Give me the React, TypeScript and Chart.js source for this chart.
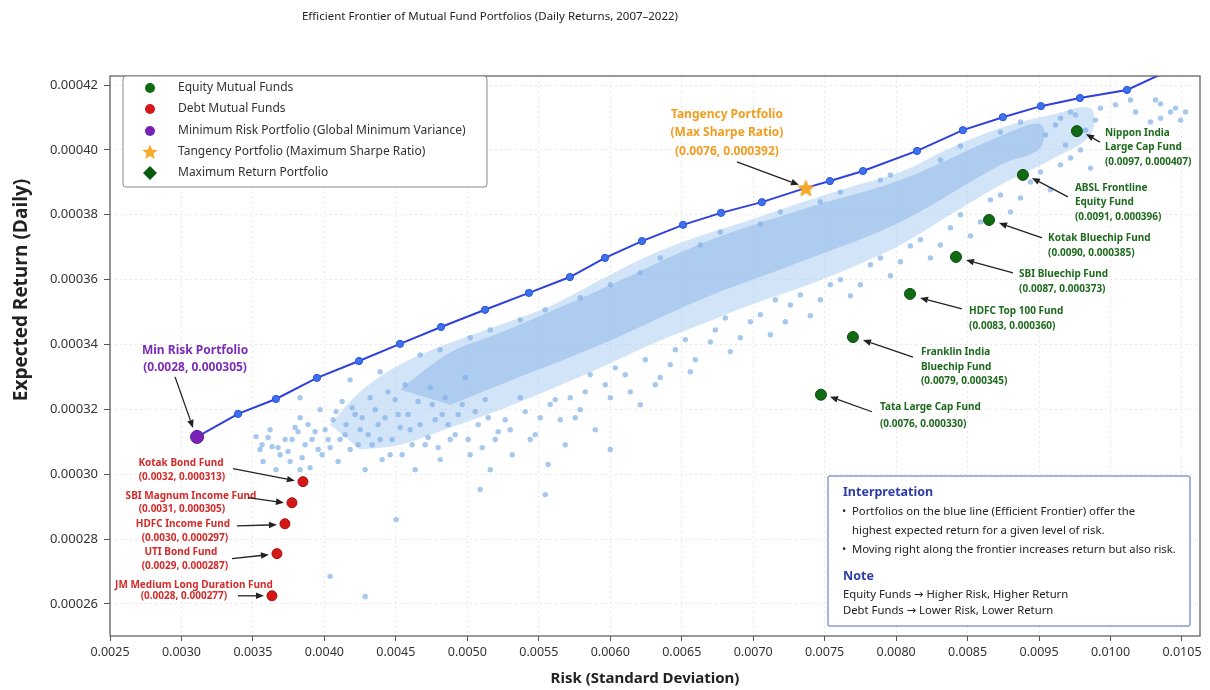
import React, { useEffect, useRef } from 'react';
import { Chart, registerables } from 'chart.js';

Chart.register(...registerables);

// ---------- axis ticks ----------
const X_TICK_VALUES = [0.0025, 0.003, 0.0035, 0.004, 0.0045, 0.005, 0.0055, 0.006, 0.0065, 0.007, 0.0075, 0.008, 0.0085, 0.009, 0.0095, 0.01];
const X_TICK_LABELS = ['0.0025', '0.0030', '0.0035', '0.0040', '0.0045', '0.0050', '0.0055', '0.0060', '0.0065', '0.0070', '0.0075', '0.0080', '0.0085', '0.0095', '0.0100', '0.0105'];
const Y_TICK_VALUES = [0.00026, 0.00028, 0.0003, 0.00032, 0.00034, 0.00036, 0.00038, 0.0004, 0.00042];
const X_MIN = 0.0025;
const X_MAX = 0.010126;
const Y_MIN = 0.0002501;
const Y_MAX = 0.0004228;

// ---------- efficient frontier ----------
const FRONTIER_X = [0.003109, 0.003396, 0.003661, 0.003948, 0.004242, 0.004529, 0.004816, 0.005124, 0.005431, 0.005718, 0.005963, 0.006222, 0.006509, 0.006775, 0.007061, 0.007369, 0.007537, 0.007768, 0.008146, 0.008467, 0.008747, 0.009013, 0.009286, 0.009615, 0.009885];
const FRONTIER_Y = [0.0003115, 0.0003186, 0.0003232, 0.0003297, 0.0003349, 0.0003402, 0.0003454, 0.0003507, 0.0003559, 0.0003608, 0.0003667, 0.0003719, 0.0003769, 0.0003806, 0.0003839, 0.0003883, 0.0003904, 0.0003935, 0.0003997, 0.0004061, 0.0004101, 0.0004135, 0.000416, 0.0004185, 0.000424];

// ---------- funds ----------
const EQUITY_X = [0.009265, 0.008887, 0.00865, 0.008419, 0.008097, 0.007698, 0.007474];
const EQUITY_Y = [0.0004058, 0.0003923, 0.0003784, 0.000367, 0.0003556, 0.0003423, 0.0003245];
const EQUITY_LABELS = [
  ['Nippon India', 'Large Cap Fund', '(0.0097, 0.000407)'],
  ['ABSL Frontline', 'Equity Fund', '(0.0091, 0.000396)'],
  ['Kotak Bluechip Fund', '(0.0090, 0.000385)'],
  ['SBI Bluechip Fund', '(0.0087, 0.000373)'],
  ['HDFC Top 100 Fund', '(0.0083, 0.000360)'],
  ['Franklin India', 'Bluechip Fund', '(0.0079, 0.000345)'],
  ['Tata Large Cap Fund', '(0.0076, 0.000330)'],
];

const DEBT_X = [0.00385, 0.003773, 0.003724, 0.003668, 0.003633];
const DEBT_Y = [0.0002977, 0.0002912, 0.0002847, 0.0002755, 0.0002625];
const DEBT_LABELS = [
  ['Kotak Bond Fund', '(0.0032, 0.000313)'],
  ['SBI Magnum Income Fund', '(0.0031, 0.000305)'],
  ['HDFC Income Fund', '(0.0030, 0.000297)'],
  ['UTI Bond Fund', '(0.0029, 0.000287)'],
  ['JM Medium Long Duration Fund', '(0.0028, 0.000277)'],
];

const MIN_RISK_X = [0.003109];
const MIN_RISK_Y = [0.0003115];
const MIN_RISK_LABEL = ['Min Risk Portfolio', '(0.0028, 0.000305)'];

const TANGENCY_X = [0.007369];
const TANGENCY_Y = [0.0003883];
const TANGENCY_LABEL = ['Tangency Portfolio', '(Max Sharpe Ratio)', '(0.0076, 0.000392)'];

// ---------- simulated portfolios (cloud) ----------
const CLOUD_X = [
  0.003522, 0.00355, 0.003571, 0.00362, 0.003634, 0.003662, 0.00369, 0.003725, 0.00376, 0.003795,
  0.00383, 0.003865, 0.0039, 0.003935, 0.00397, 0.003984, 0.004026, 0.004061, 0.004096, 0.004124,
  0.004145, 0.00418, 0.004215, 0.00425, 0.004285, 0.00432, 0.004334, 0.004376, 0.004404, 0.004446,
  0.004474, 0.004516, 0.004544, 0.004565, 0.0046, 0.004635, 0.004656, 0.004705, 0.00474, 0.004775,
  0.00481, 0.004845, 0.00488, 0.004936, 0.004985, 0.00502, 0.005076, 0.005125, 0.00516, 0.005195,
  0.005265, 0.005314, 0.00537, 0.00544, 0.00551, 0.005566, 0.005615, 0.005685, 0.005755, 0.005825,
  0.005895, 0.006, 0.006105, 0.00621, 0.006315, 0.00642, 0.00656, 0.0067, 0.00684, 0.00698,
  0.00712, 0.00726, 0.0074, 0.00754, 0.00768, 0.00782, 0.00796, 0.0081, 0.00824, 0.00838,
  0.00852, 0.00866, 0.0088, 0.00894, 0.00908, 0.00922, 0.00936, 0.00978,
  0.00992, 0.00404, 0.004285, 0.004502, 0.005545, 0.00383, 0.00509, 0.006, 0.00383, 0.00418,
  0.00467, 0.00502, 0.00537, 0.00579, 0.00621, 0.00663, 0.00705, 0.00747, 0.00789, 0.00831,
  0.00873, 0.00915, 0.00943, 0.00964, 0.00985, 0.009045, 0.009115, 0.009185, 0.009255, 0.009325,
  0.009395, 0.009535, 0.009675, 0.009815, 0.009955, 0.010025,
  0.003564, 0.003606, 0.003676, 0.003746, 0.003774, 0.003816, 0.003844, 0.003886, 0.003914, 0.003956,
  0.004005, 0.00404, 0.004082, 0.00411, 0.004152, 0.004194, 0.004236, 0.004264, 0.004306, 0.004355,
  0.00439, 0.004425, 0.00446, 0.004495, 0.00453, 0.004586, 0.004614, 0.00467, 0.004726, 0.004754,
  0.004796, 0.004824, 0.004866, 0.004915, 0.004964, 0.005006, 0.005055, 0.005104, 0.005146, 0.005216,
  0.0053, 0.005405, 0.005475, 0.00558, 0.00565, 0.00572, 0.00579, 0.00586, 0.005965, 0.006035,
  0.00614, 0.006245, 0.00635, 0.006455, 0.006525, 0.006595, 0.006735, 0.006805, 0.00691, 0.00705,
  0.007155, 0.007225, 0.00733, 0.00747, 0.00761, 0.00775, 0.00789, 0.00803, 0.00817, 0.00831,
  0.00845, 0.00859, 0.00873, 0.00887, 0.00901, 0.00915, 0.00929,
  0.00985, 0.00999, 0.00439, 0.00481, 0.00516, 0.005545, 0.006, 0.00635, 0.00677, 0.00719,
  0.00761, 0.00796, 0.00845, 0.00887, 0.00922,
];
const CLOUD_Y = [
  0.0003116, 0.0003076, 0.0003039, 0.0003137, 0.0003085, 0.0003014, 0.000306, 0.0003107, 0.0003039, 0.0003144,
  0.0003174, 0.0003091, 0.000302, 0.0003131, 0.0003199, 0.000306, 0.0003107, 0.0003168, 0.0003039, 0.0003224,
  0.0003122, 0.0003076, 0.0003184, 0.0003137, 0.0003014, 0.0003236, 0.0003091, 0.0003153, 0.0003045, 0.0003254,
  0.0003107, 0.0003184, 0.000306, 0.0003276, 0.0003137, 0.0003014, 0.0003224, 0.0003091, 0.0003267, 0.0003168,
  0.0003045, 0.0003236, 0.0003107, 0.0003184, 0.0003298, 0.000306, 0.0003153, 0.000323, 0.0003014, 0.0003107,
  0.0003168, 0.000306, 0.0003236, 0.0003107, 0.0003174, 0.000303, 0.000323, 0.0003091, 0.0003174, 0.0003254,
  0.0003137, 0.0003236, 0.0003307, 0.0003214, 0.0003276, 0.0003338, 0.0003316, 0.0003408, 0.0003378, 0.000347,
  0.000343, 0.0003522, 0.0003489, 0.0003584, 0.000355, 0.0003646, 0.0003612, 0.0003704, 0.0003667, 0.000376,
  0.0003735, 0.0003846, 0.0003809, 0.0003901, 0.0003877, 0.0003975, 0.0003944, 0.0004086,
  0.0004117, 0.0002685, 0.0002623, 0.000286, 0.0002937, 0.0003014, 0.0002953, 0.0003076, 0.0003236, 0.0003291,
  0.0003368, 0.0003421, 0.0003476, 0.0003544, 0.0003621, 0.0003707, 0.0003772, 0.000384, 0.0003907, 0.0003969,
  0.0004055, 0.0004098, 0.0004129, 0.0004154, 0.0004142, 0.0004046, 0.0004077, 0.0004015, 0.0004108, 0.0004061,
  0.0004092, 0.0004139, 0.0004117, 0.0004154, 0.0004129, 0.0004117,
  0.0003091, 0.0003113, 0.0003082, 0.000307, 0.0003107, 0.0003131, 0.0003051, 0.0003153, 0.0003107, 0.0003076,
  0.0003137, 0.0003082, 0.0003193, 0.0003107, 0.0003153, 0.0003205, 0.0003091, 0.0003174, 0.0003122, 0.0003199,
  0.0003107, 0.0003174, 0.000306, 0.000323, 0.0003144, 0.0003184, 0.0003091, 0.0003153, 0.0003113, 0.0003215,
  0.0003082, 0.0003184, 0.0003153, 0.0003122, 0.0003215, 0.0003107, 0.0003193, 0.0003082, 0.0003174, 0.0003131,
  0.0003137, 0.0003193, 0.0003122, 0.0003215, 0.0003168, 0.0003236, 0.0003199, 0.0003307, 0.0003276, 0.0003328,
  0.0003254, 0.0003353, 0.0003298, 0.0003384, 0.0003415, 0.0003353, 0.0003445, 0.0003482, 0.0003421, 0.0003492,
  0.0003538, 0.000347, 0.0003553, 0.0003538, 0.00036, 0.0003584, 0.0003667, 0.0003655, 0.0003723, 0.0003707,
  0.00038, 0.0003778, 0.0003861, 0.0003852, 0.0003932, 0.0003954, 0.0004,
  0.0004098, 0.0004092, 0.0003316, 0.0003384, 0.0003445, 0.0003507, 0.0003584, 0.0003667, 0.0003747, 0.0003809,
  0.000387, 0.0003923, 0.0004012, 0.0004086, 0.0004117,
];

// dense core of the cloud (outline, outer and inner)
const CORE_OUTER_X = [0.00404, 0.00425, 0.00453, 0.00488, 0.00523, 0.00558, 0.00593, 0.00628, 0.00663, 0.00698, 0.00733, 0.00768, 0.00803, 0.00838, 0.00873, 0.00908, 0.00936, 0.00936, 0.00908, 0.00873, 0.00838, 0.00803, 0.00768, 0.00733, 0.00698, 0.00663, 0.00628, 0.00593, 0.00558, 0.00523, 0.00488, 0.00453, 0.00425];
const CORE_OUTER_Y = [0.0003153, 0.0003254, 0.0003338, 0.0003405, 0.0003461, 0.0003519, 0.0003599, 0.0003676, 0.0003735, 0.0003784, 0.0003837, 0.0003886, 0.0003932, 0.0004006, 0.0004068, 0.0004108, 0.0004129, 0.0004046, 0.0003969, 0.0003892, 0.00038, 0.0003707, 0.0003636, 0.0003575, 0.0003522, 0.0003461, 0.0003399, 0.0003328, 0.0003261, 0.0003199, 0.0003144, 0.0003091, 0.0003076];
const CORE_INNER_X = [0.00453, 0.00488, 0.00523, 0.00593, 0.00663, 0.00733, 0.00803, 0.00873, 0.00901, 0.00901, 0.00873, 0.00803, 0.00733, 0.00663, 0.00593, 0.00523, 0.00488];
const CORE_INNER_Y = [0.0003261, 0.0003375, 0.0003436, 0.0003569, 0.000371, 0.0003815, 0.0003907, 0.0004043, 0.000408, 0.0004006, 0.0003954, 0.0003778, 0.0003655, 0.0003538, 0.0003399, 0.0003276, 0.0003214];

// ---------- legend & note texts ----------
const LEGEND_LABELS = [
  'Equity Mutual Funds',
  'Debt Mutual Funds',
  'Minimum Risk Portfolio (Global Minimum Variance)',
  'Tangency Portfolio (Maximum Sharpe Ratio)',
  'Maximum Return Portfolio',
];
const TITLE = 'Efficient Frontier of Mutual Fund Portfolios (Daily Returns, 2007\u20132022)';
const X_TITLE = 'Risk (Standard Deviation)';
const Y_TITLE = 'Expected Return (Daily)';
const NOTE_HEAD_1 = 'Interpretation';
const NOTE_BULLETS = [
  ['Portfolios on the blue line (Efficient Frontier) offer the', 'highest expected return for a given level of risk.'],
  ['Moving right along the frontier increases return but also risk.'],
];
const NOTE_HEAD_2 = 'Note';
const NOTE_LINES = ['Equity Funds \u2192 Higher Risk, Higher Return', 'Debt Funds \u2192 Lower Risk, Lower Return'];

// ---------- styling ----------
const FONT = '"Noto Sans", "DejaVu Sans", sans-serif';
const C_EQUITY = '#0f6a12';
const C_DEBT = '#d41818';
const C_MIN = '#7a22b8';
const C_TAN = '#f6ab2a';
const C_MAXRET = '#0b5a12';
const C_FRONT = '#2e40de';

// annotation layout: pixel offsets relative to the marker
type LineOff = [number, number];
type AnnLayout = { lines: LineOff[]; from: LineOff; to: LineOff };
const EQUITY_LAYOUT: AnnLayout[] = [
  { lines: [[28, 2], [28, 16], [28, 31]], from: [23, 11], to: [9, 3] },
  { lines: [[52, 13], [52, 27], [52, 42]], from: [45, 22], to: [9, 3] },
  { lines: [[59, 18], [59, 33]], from: [53, 18], to: [10, 3] },
  { lines: [[63, 17], [63, 32]], from: [57, 16], to: [10, 3] },
  { lines: [[59, 17], [59, 32]], from: [52, 15], to: [10, 4] },
  { lines: [[68, 15], [68, 30], [68, 44]], from: [60, 20], to: [10, 3] },
  { lines: [[59, 12], [59, 29]], from: [51, 17], to: [9, 2] },
];
const DEBT_LAYOUT: AnnLayout[] = [
  { lines: [[-122, -18], [-121, -4]], from: [-70, -13], to: [-8, -1] },
  { lines: [[-101, -7], [-110, 6]], from: [-44, -5], to: [-8, 0] },
  { lines: [[-102, 0], [-100, 14]], from: [-48, 2], to: [-8, 1] },
  { lines: [[-96, -1], [-92, 13]], from: [-45, 5], to: [-8, 1] },
  { lines: [[-78, -11], [-88, 0]], from: [-34, 0], to: [-8, 0] },
];
const MIN_LAYOUT: AnnLayout = { lines: [[-2, -86], [-2, -69]], from: [-22, -60], to: [-4, -9] };
const TAN_LAYOUT: AnnLayout = { lines: [[-79, -73], [-79, -55], [-79, -36]], from: [-69, -26], to: [-7, -3] };

function starPath(ctx: CanvasRenderingContext2D, cx: number, cy: number, R: number, r: number) {
  ctx.beginPath();
  for (let i = 0; i < 10; i++) {
    const a = -Math.PI / 2 + (i * Math.PI) / 5;
    const rad = i % 2 === 0 ? R : r;
    const px = cx + rad * Math.cos(a);
    const py = cy + rad * Math.sin(a);
    if (i === 0) ctx.moveTo(px, py);
    else ctx.lineTo(px, py);
  }
  ctx.closePath();
}

function makeStar(R: number): HTMLCanvasElement {
  const c = document.createElement('canvas');
  const s = Math.ceil(R * 2 + 4);
  c.width = s;
  c.height = s;
  const g = c.getContext('2d')!;
  starPath(g, s / 2, s / 2 + 1, R, R * 0.45);
  g.fillStyle = C_TAN;
  g.fill();
  g.strokeStyle = '#e8961a';
  g.lineWidth = 0.8;
  g.stroke();
  return c;
}

function arrow(ctx: CanvasRenderingContext2D, x1: number, y1: number, x2: number, y2: number) {
  const ang = Math.atan2(y2 - y1, x2 - x1);
  const hl = 8;
  const hw = 3.3;
  const bx = x2 - hl * Math.cos(ang);
  const by = y2 - hl * Math.sin(ang);
  ctx.save();
  ctx.strokeStyle = '#222';
  ctx.fillStyle = '#222';
  ctx.lineWidth = 1.3;
  ctx.beginPath();
  ctx.moveTo(x1, y1);
  ctx.lineTo(bx, by);
  ctx.stroke();
  ctx.beginPath();
  ctx.moveTo(x2, y2);
  ctx.lineTo(bx + hw * Math.sin(ang), by - hw * Math.cos(ang));
  ctx.lineTo(bx - hw * Math.sin(ang), by + hw * Math.cos(ang));
  ctx.closePath();
  ctx.fill();
  ctx.restore();
}

function drawAnnotation(
  ctx: CanvasRenderingContext2D,
  px: number,
  py: number,
  texts: string[],
  layout: AnnLayout,
  color: string,
  font: string,
  align: CanvasTextAlign
) {
  ctx.save();
  ctx.font = font;
  ctx.fillStyle = color;
  ctx.textAlign = align;
  ctx.textBaseline = 'middle';
  texts.forEach((t, i) => {
    const [dx, dy] = layout.lines[i];
    ctx.fillText(t, px + dx, py + dy);
  });
  ctx.restore();
  arrow(ctx, px + layout.from[0], py + layout.from[1], px + layout.to[0], py + layout.to[1]);
}

const zip = (xs: number[], ys: number[]) => xs.map((x, i) => ({ x, y: ys[i] }));

export default function App() {
  const ref = useRef<HTMLCanvasElement>(null);

  useEffect(() => {
    document.body.style.margin = '0';
    const canvas = ref.current!;
    const starImg = makeStar(8.5);

    const overlay = {
      id: 'overlay',
      afterDatasetsDraw(chart: any) {
        const ctx: CanvasRenderingContext2D = chart.ctx;
        const xs = chart.scales.x;
        const ys = chart.scales.y;
        const P = (x: number, y: number) => [xs.getPixelForValue(x), ys.getPixelForValue(y)];

        EQUITY_X.forEach((x, i) => {
          const [px, py] = P(x, EQUITY_Y[i]);
          drawAnnotation(ctx, px, py, EQUITY_LABELS[i], EQUITY_LAYOUT[i], '#1d6a1d', `bold 10px ${FONT}`, 'left');
        });
        DEBT_X.forEach((x, i) => {
          const [px, py] = P(x, DEBT_Y[i]);
          drawAnnotation(ctx, px, py, DEBT_LABELS[i], DEBT_LAYOUT[i], '#d42a2a', `bold 10px ${FONT}`, 'center');
        });
        {
          const [px, py] = P(MIN_RISK_X[0], MIN_RISK_Y[0]);
          drawAnnotation(ctx, px, py, MIN_RISK_LABEL, MIN_LAYOUT, '#7a2cb8', `bold 12px ${FONT}`, 'center');
        }
        {
          const [px, py] = P(TANGENCY_X[0], TANGENCY_Y[0]);
          drawAnnotation(ctx, px, py, TANGENCY_LABEL, TAN_LAYOUT, '#f39c1f', `bold 12px ${FONT}`, 'center');
        }
      },
      afterDraw(chart: any) {
        const ctx: CanvasRenderingContext2D = chart.ctx;
        const a = chart.chartArea;

        // frame
        ctx.save();
        ctx.strokeStyle = '#555';
        ctx.lineWidth = 1.2;
        ctx.strokeRect(a.left, a.top, a.right - a.left, a.bottom - a.top);
        ctx.restore();

        // title
        ctx.save();
        ctx.fillStyle = '#222';
        ctx.font = `11.5px ${FONT}`;
        ctx.textAlign = 'center';
        ctx.textBaseline = 'middle';
        ctx.fillText(TITLE, 490, 17);
        // axis titles
        ctx.font = `bold 15px ${FONT}`;
        ctx.fillText(X_TITLE, 645, 679);
        ctx.translate(22, 290);
        ctx.rotate(-Math.PI / 2);
        ctx.font = `bold 19px "Open Sans", ${FONT}`;
        ctx.fillText(Y_TITLE, 0, 0);
        ctx.restore();

        // legend box
        ctx.save();
        const lx = 123, ly = a.top, lw = 364, lh = 187 - a.top;
        ctx.fillStyle = 'rgba(255,255,255,0.95)';
        ctx.strokeStyle = '#8a8a8a';
        ctx.lineWidth = 1;
        ctx.beginPath();
        (ctx as any).roundRect(lx, ly, lw, lh, 3);
        ctx.fill();
        ctx.stroke();
        const rowY = [88, 109, 131, 152, 173];
        const mx = 150;
        ctx.fillStyle = C_EQUITY;
        ctx.beginPath(); ctx.arc(mx, rowY[0], 5, 0, Math.PI * 2); ctx.fill();
        ctx.fillStyle = C_DEBT;
        ctx.beginPath(); ctx.arc(mx, rowY[1], 5, 0, Math.PI * 2); ctx.fill();
        ctx.fillStyle = C_MIN;
        ctx.beginPath(); ctx.arc(mx, rowY[2], 5, 0, Math.PI * 2); ctx.fill();
        starPath(ctx, mx, rowY[3] + 0.5, 8, 3.6);
        ctx.fillStyle = C_TAN; ctx.fill();
        ctx.fillStyle = C_MAXRET;
        ctx.beginPath();
        ctx.moveTo(mx, rowY[4] - 7); ctx.lineTo(mx + 7, rowY[4]); ctx.lineTo(mx, rowY[4] + 7); ctx.lineTo(mx - 7, rowY[4]);
        ctx.closePath(); ctx.fill();
        ctx.fillStyle = '#333';
        ctx.font = `12px ${FONT}`;
        ctx.textAlign = 'left';
        ctx.textBaseline = 'middle';
        LEGEND_LABELS.forEach((t, i) => ctx.fillText(t, 178, rowY[i]));
        ctx.restore();

        // interpretation box
        ctx.save();
        const bx = 828, by = 476, bw = 362, bh = 150;
        ctx.fillStyle = '#fff';
        ctx.strokeStyle = '#8c9bd2';
        ctx.lineWidth = 1.5;
        ctx.beginPath();
        (ctx as any).roundRect(bx, by, bw, bh, 2);
        ctx.fill();
        ctx.stroke();
        ctx.textAlign = 'left';
        ctx.textBaseline = 'middle';
        ctx.fillStyle = '#2b3ca8';
        ctx.font = `bold 12.5px ${FONT}`;
        ctx.fillText(NOTE_HEAD_1, 843, 492);
        ctx.fillText(NOTE_HEAD_2, 843, 576);
        ctx.fillStyle = '#222';
        ctx.font = `11.3px ${FONT}`;
        let yy = 512;
        NOTE_BULLETS.forEach((lines) => {
          ctx.fillText('\u2022', 842, yy);
          lines.forEach((l) => {
            ctx.fillText(l, 852, yy);
            yy += 19;
          });
        });
        ctx.fillText(NOTE_LINES[0], 843, 595);
        ctx.fillText(NOTE_LINES[1], 843, 611);
        ctx.restore();
      },
    };

    const chart = new Chart(canvas, {
      type: 'scatter',
      data: {
        datasets: [
          {
            label: 'Tangency Portfolio',
            data: zip(TANGENCY_X, TANGENCY_Y),
            pointStyle: starImg as any,
            pointRadius: 9,
            order: 0,
          } as any,
          {
            label: 'Minimum Risk Portfolio',
            data: zip(MIN_RISK_X, MIN_RISK_Y),
            pointRadius: 6.5,
            backgroundColor: C_MIN,
            borderColor: '#5e1590',
            borderWidth: 1,
            order: 0,
          },
          {
            label: 'Equity Mutual Funds',
            data: zip(EQUITY_X, EQUITY_Y),
            pointRadius: 5.5,
            backgroundColor: C_EQUITY,
            borderColor: '#0a4d0c',
            borderWidth: 1,
            order: 0,
          },
          {
            label: 'Debt Mutual Funds',
            data: zip(DEBT_X, DEBT_Y),
            pointRadius: 5,
            backgroundColor: C_DEBT,
            borderColor: '#a80e0e',
            borderWidth: 1,
            order: 0,
          },
          {
            type: 'line',
            label: 'Efficient Frontier',
            data: zip(FRONTIER_X, FRONTIER_Y),
            borderColor: C_FRONT,
            borderWidth: 2,
            backgroundColor: '#3d72ee',
            pointBorderColor: '#2a52dc',
            pointBorderWidth: 1,
            pointRadius: (c: any) => (c.dataIndex === 0 || FRONTIER_X[c.dataIndex] === TANGENCY_X[0] ? 0 : 3.6),
            fill: false,
            tension: 0,
            order: 1,
          } as any,
          {
            label: 'Simulated Portfolios',
            data: zip(CLOUD_X, CLOUD_Y),
            pointRadius: 2.7,
            backgroundColor: 'rgba(132,178,232,0.72)',
            borderWidth: 0,
            order: 2,
          },
          {
            type: 'line',
            label: 'core-inner',
            data: zip(CORE_INNER_X, CORE_INNER_Y),
            borderWidth: 0,
            borderColor: 'rgba(0,0,0,0)',
            backgroundColor: 'rgba(136,180,232,0.5)',
            pointRadius: 0,
            fill: 'shape',
            tension: 0.35,
            order: 3,
          } as any,
          {
            type: 'line',
            label: 'core-outer',
            data: zip(CORE_OUTER_X, CORE_OUTER_Y),
            borderWidth: 0,
            borderColor: 'rgba(0,0,0,0)',
            backgroundColor: 'rgba(156,196,238,0.45)',
            pointRadius: 0,
            fill: 'shape',
            tension: 0.35,
            order: 4,
          } as any,
        ],
      },
      options: {
        responsive: false,
        animation: false,
        events: [],
        layout: { padding: { top: 76, right: 10, left: 0, bottom: 0 } },
        plugins: {
          legend: { display: false },
          title: { display: false },
          tooltip: { enabled: false },
        },
        scales: {
          x: {
            type: 'linear',
            min: X_MIN,
            max: X_MAX,
            afterFit: (s: any) => {
              s.height = 54;
            },
            afterBuildTicks: (s: any) => {
              s.ticks = X_TICK_VALUES.map((v) => ({ value: v }));
            },
            ticks: {
              callback: (_v: any, i: number) => X_TICK_LABELS[i],
              font: { family: FONT, size: 12.5 },
              color: '#333',
              padding: 4,
              maxRotation: 0,
              autoSkip: false,
            },
            grid: { color: 'rgba(0,0,0,0.09)', tickColor: '#555', tickLength: 5, lineWidth: 1 },
            border: { display: false, dash: [2, 3] },
          },
          y: {
            type: 'linear',
            min: Y_MIN,
            max: Y_MAX,
            afterFit: (s: any) => {
              s.width = 110;
            },
            afterBuildTicks: (s: any) => {
              s.ticks = Y_TICK_VALUES.map((v) => ({ value: v }));
            },
            ticks: {
              callback: (v: any) => Number(v).toFixed(5),
              font: { family: FONT, size: 13 },
              color: '#333',
              padding: 6,
              autoSkip: false,
            },
            grid: { color: 'rgba(0,0,0,0.09)', tickColor: '#555', tickLength: 6, lineWidth: 1 },
            border: { display: false, dash: [2, 3] },
          },
        },
      } as any,
      plugins: [overlay],
    });

    return () => chart.destroy();
  }, []);

  return (
    <div style={{ position: 'absolute', left: 0, top: 0, width: 1210, height: 690, background: '#fff' }}>
      <canvas ref={ref} width={1210} height={690} style={{ display: 'block', width: 1210, height: 690 }} />
    </div>
  );
}
